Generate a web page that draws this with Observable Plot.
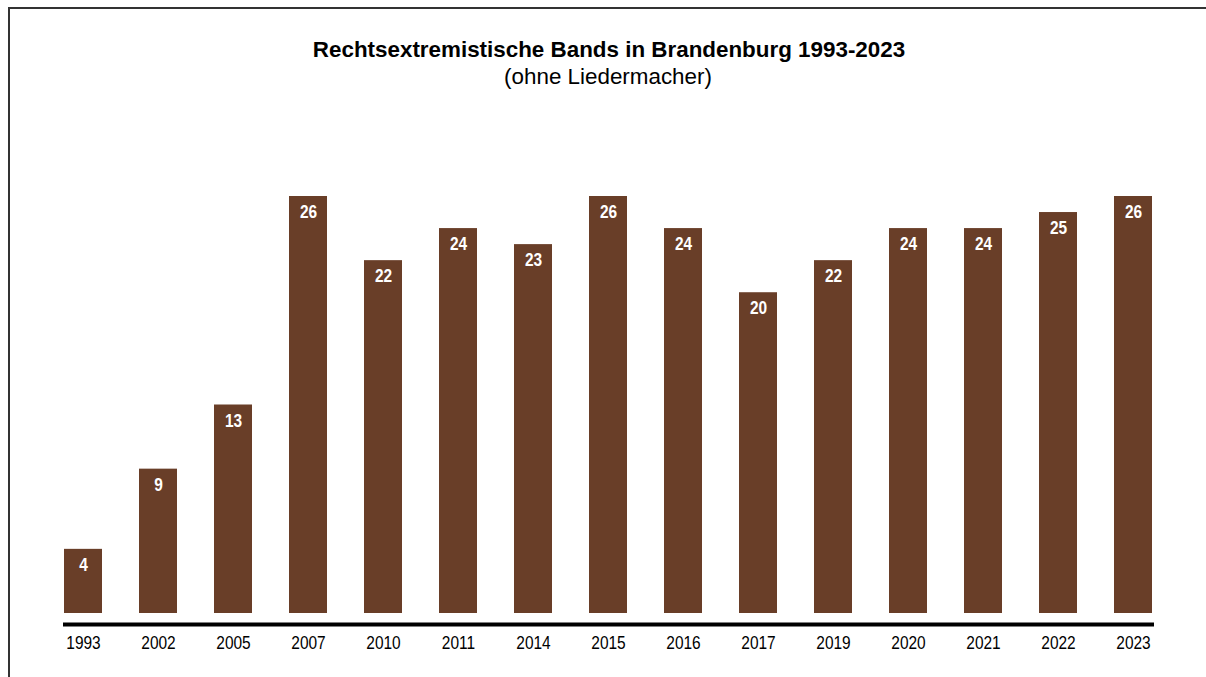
<!DOCTYPE html>
<html>
<head>
<meta charset="utf-8">
<script src="https://cdn.jsdelivr.net/npm/d3@7"></script>
<script src="https://cdn.jsdelivr.net/npm/@observablehq/plot@0.6"></script>
<style>
  html, body { margin: 0; padding: 0; background: #fff; width: 1206px; height: 677px; overflow: hidden; }
  #frame { position: absolute; left: 8px; top: 7px; width: 1400px; height: 900px; border-left: 2px solid #333; border-top: 2px solid #333; }
  #header { position: relative; height: 100px; width: 1206px; font-family: "Liberation Sans", Arial, sans-serif; color: #000; }
  #title { position: absolute; top: 37px; left: 0; width: 1218px; text-align: center; font-weight: bold; font-size: 22.4px; line-height: 25px; }
  #subtitle { position: absolute; top: 64px; left: 0; width: 1216px; text-align: center; font-size: 22.4px; line-height: 25px; }
  #chart { position: relative; }
</style>
</head>
<body>
<div id="frame"></div>
<div id="header">
  <div id="title">Rechtsextremistische Bands in Brandenburg 1993-2023</div>
  <div id="subtitle">(ohne Liedermacher)</div>
</div>
<div id="chart"></div>
<script>
const years = ["1993","2002","2005","2007","2010","2011","2014","2015","2016","2017","2019","2020","2021","2022","2023"];
const bands = [4, 9, 13, 26, 22, 24, 23, 26, 24, 20, 22, 24, 24, 25, 26];

const data = years.map((year, i) => ({year, value: bands[i]}));
const font = "'Liberation Sans', Arial, sans-serif";

const chart = Plot.plot({
  width: 1206,
  height: 577,
  marginLeft: 63,
  marginRight: 52,
  marginTop: 96,
  marginBottom: 64,
  style: {background: "transparent", fontFamily: font, color: "#000", overflow: "visible"},
  x: {domain: years, paddingInner: 0.49, paddingOuter: 0, label: null},
  y: {domain: [0, 26], axis: null},
  marks: [
    Plot.barY(data, {x: "year", y: "value", fill: "#693E28"}),
    Plot.text(data, {x: "year", y: "value", text: d => String(d.value), dy: 16, fill: "#fff", fontWeight: "bold", fontSize: 18, fontFamily: font, className: "barlabel"}),
    Plot.ruleY([0], {stroke: "#000", strokeWidth: 4, dy: 11}),
    Plot.axisX({tickSize: 0, tickPadding: 23, fontSize: 18, fontFamily: font, label: null})
  ]
});
document.getElementById("chart").appendChild(chart);

// condense the text horizontally (narrow typeface look)
d3.select(chart).selectAll('g[aria-label="x-axis tick label"] text, g.barlabel text, .barlabel text').each(function() {
  const t = this.getAttribute("transform") || "";
  this.setAttribute("transform", t + " scale(0.86,1)");
});
</script>
</body>
</html>
